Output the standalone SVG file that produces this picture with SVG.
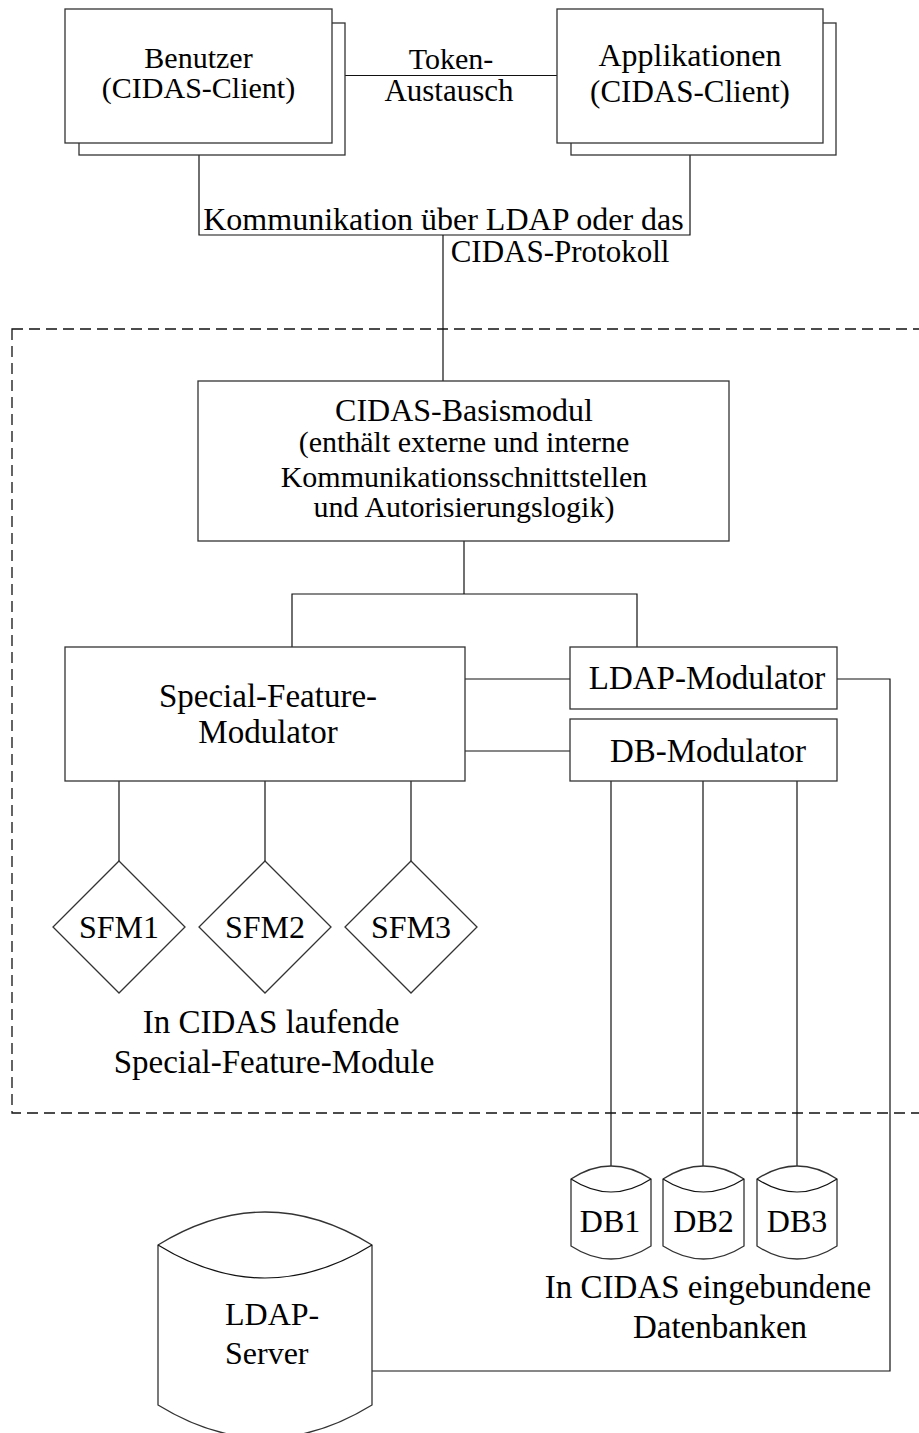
<svg xmlns="http://www.w3.org/2000/svg" width="919" height="1433" viewBox="0 0 919 1433">
<style>
  .box{fill:#fff;stroke:#333;stroke-width:1.3}
  .ln{fill:none;stroke:#111;stroke-width:1.2}
  .dash{fill:none;stroke:#111;stroke-width:1.3;stroke-dasharray:11 6}
  text{font-family:"Liberation Serif","Times New Roman",serif;font-size:32px;fill:#000;text-anchor:middle}
  .s30{font-size:30px}
  .s31{font-size:31px}
  .s33{font-size:33px}
</style>
<rect width="919" height="1433" fill="#fff"/>
<rect id="boundary" class="dash" x="12" y="329" width="930" height="784"/>
<g id="connectors">
  <path class="ln" d="M345 75.5 H557"/>
  <path class="ln" d="M199 155 V235 H690 V155"/>
  <path class="ln" d="M443 235 V381"/>
  <path class="ln" d="M464 541 V594"/>
  <path class="ln" d="M292 647 V594 H637 V647"/>
  <path class="ln" d="M465 679 H570"/>
  <path class="ln" d="M465 751 H570"/>
  <path class="ln" d="M119 781 V861"/>
  <path class="ln" d="M265 781 V861"/>
  <path class="ln" d="M411 781 V861"/>
  <path class="ln" d="M611 781 V1185"/>
  <path class="ln" d="M703 781 V1185"/>
  <path class="ln" d="M797 781 V1185"/>
  <path class="ln" d="M837 679 H890 V1371 H372"/>
</g>
<g id="label-token">
  <text class="s30" x="451" y="69">Token-</text>
  <text class="s31" x="449" y="101">Austausch</text>
</g>
<g id="label-komm">
  <text x="443.5" y="230">Kommunikation über LDAP oder das</text>
  <text class="s31" x="560" y="262">CIDAS-Protokoll</text>
</g>
<g id="benutzer">
  <rect class="box" x="79" y="23" width="266" height="132"/>
  <rect class="box" x="65" y="9" width="267" height="134"/>
  <text class="s30" x="198.5" y="68">Benutzer</text>
  <text class="s30" x="198.5" y="98">(CIDAS-Client)</text>
</g>
<g id="applikationen">
  <rect class="box" x="571" y="23" width="265" height="132"/>
  <rect class="box" x="557" y="9" width="266" height="134"/>
  <text x="690" y="66">Applikationen</text>
  <text class="s31" x="690" y="102">(CIDAS-Client)</text>
</g>
<g id="basismodul">
  <rect class="box" x="198" y="381" width="531" height="160"/>
  <text x="464" y="421">CIDAS-Basismodul</text>
  <text class="s30" x="464" y="452">(enthält externe und interne</text>
  <text class="s30" x="464" y="487">Kommunikationsschnittstellen</text>
  <text class="s30" x="464" y="517">und Autorisierungslogik)</text>
</g>
<g id="sfmodulator">
  <rect class="box" x="65" y="647" width="400" height="134"/>
  <text class="s33" x="268" y="707">Special-Feature-</text>
  <text class="s33" x="268" y="743">Modulator</text>
</g>
<g id="ldapmodulator">
  <rect class="box" x="570" y="647" width="267" height="62"/>
  <text class="s33" x="707" y="689">LDAP-Modulator</text>
</g>
<g id="dbmodulator">
  <rect class="box" x="570" y="719" width="267" height="62"/>
  <text class="s33" x="708" y="762">DB-Modulator</text>
</g>
<g id="sfm1">
  <polygon class="box" points="119,861 185,927 119,993 53,927"/>
  <text x="119" y="938">SFM1</text>
</g>
<g id="sfm2">
  <polygon class="box" points="265,861 331,927 265,993 199,927"/>
  <text x="265" y="938">SFM2</text>
</g>
<g id="sfm3">
  <polygon class="box" points="411,861 477,927 411,993 345,927"/>
  <text x="411" y="938">SFM3</text>
</g>
<g id="label-sfm">
  <text class="s33" x="271" y="1033">In CIDAS laufende</text>
  <text class="s33" x="274" y="1073">Special-Feature-Module</text>
</g>
<g id="db1">
  <path class="box" d="M571 1179 Q611 1153 651 1179 V1246 Q611 1272 571 1246 Z"/>
  <path class="ln" d="M571 1179 Q611 1205 651 1179"/>
  <text x="610" y="1232">DB1</text>
</g>
<g id="db2">
  <path class="box" d="M663 1179 Q703.5 1153 744 1179 V1246 Q703.5 1272 663 1246 Z"/>
  <path class="ln" d="M663 1179 Q703.5 1205 744 1179"/>
  <text x="703.5" y="1232">DB2</text>
</g>
<g id="db3">
  <path class="box" d="M757 1179 Q797 1153 837 1179 V1246 Q797 1272 757 1246 Z"/>
  <path class="ln" d="M757 1179 Q797 1205 837 1179"/>
  <text x="797" y="1232">DB3</text>
</g>
<g id="label-db">
  <text class="s33" x="708" y="1298">In CIDAS eingebundene</text>
  <text class="s33" x="720" y="1338">Datenbanken</text>
</g>
<g id="ldapserver">
  <path class="box" d="M158 1245 Q265 1179 372 1245 V1405 Q265 1471 158 1405 Z"/>
  <path class="ln" d="M158 1245 Q265 1311 372 1245"/>
  <text x="225" y="1325" style="text-anchor:start">LDAP-</text>
  <text x="225" y="1364" style="text-anchor:start">Server</text>
</g>
</svg>
